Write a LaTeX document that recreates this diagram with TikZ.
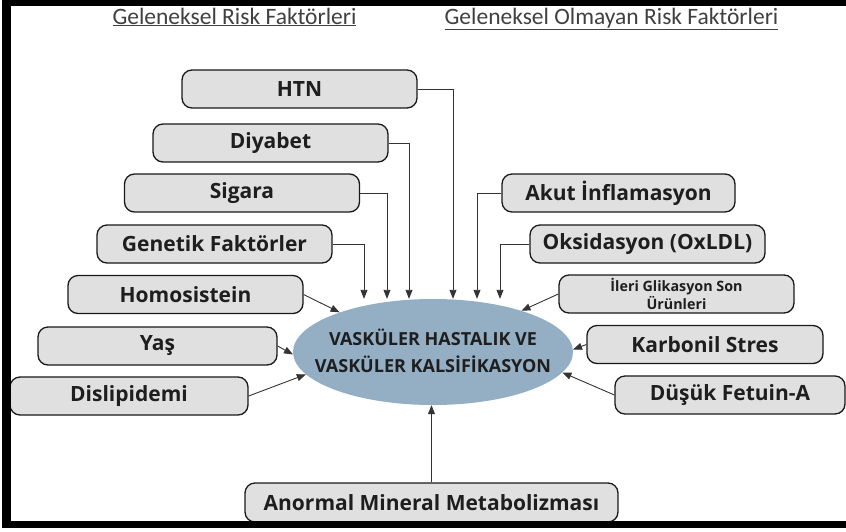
\documentclass[tikz,border=0pt]{standalone}
\usepackage{fontspec}
\setmainfont{Carlito}
\newfontfamily\boxfont{Open Sans}
\usetikzlibrary{arrows.meta,shapes.geometric,calc}
\definecolor{boxfill}{HTML}{E0E0E0}
\definecolor{ellfill}{HTML}{94AEC4}
\definecolor{linegray}{HTML}{333333}
\definecolor{titlegray}{HTML}{404040}
\definecolor{txtdark}{HTML}{1E1E1E}
\begin{document}
\begin{tikzpicture}[x=1pt,y=-1pt,
  rbox/.style={draw=black!90, line width=1.3pt, fill=boxfill, rounded corners=10pt,
    minimum width=235pt, minimum height=38pt, inner sep=0pt, align=center,
    text=txtdark, font=\boxfont\fontsize{21}{22}\selectfont\bfseries},
  title/.style={anchor=base, text=titlegray, font=\fontsize{23.5}{25}\selectfont, inner sep=0pt},
  arr/.style={draw=linegray, line width=0.9pt, -{Triangle[length=9pt,width=7pt]}}]
\useasboundingbox (0,0) rectangle (846,531);
% titles
\node[title] (t1) at (234.5,24) {\underline{Geleneksel Risk Faktörleri}};
\node[title] (t2) at (611.5,24) {\underline{Geleneksel Olmayan Risk Faktörleri}};
% centre
\node[ellipse, minimum width=280pt, minimum height=106pt, fill=ellfill, inner sep=0pt] (ell) at (433,352) {};
\node[align=center, inner sep=0pt, text=txtdark, font=\boxfont\fontsize{18}{27}\selectfont\bfseries] (elltxt) at (433,350.5)
  {VASKÜLER HASTALIK VE\\VASKÜLER KALSİFİKASYON};
% left boxes
\node[rbox] (htn) at (299.5,89) {HTN};
\node[rbox] (diy) at (270.5,143) {Diyabet};
\node[rbox] (sig) at (242,193) {Sigara};
\node[rbox] (gen) at (214.5,244) {Genetik Faktörler};
\node[rbox] (hom) at (185.5,294.5) {Homosistein};
\node[rbox, minimum width=239pt] (yas) at (157.5,346) {Yaş};
\node[rbox, minimum width=238pt] (dis) at (129,396) {Dislipidemi};
% right boxes
\node[rbox, minimum width=233pt] (aku) at (618.5,193) {Akut İnflamasyon};
\node[rbox] (oks) at (647.5,244) {Oksidasyon (OxLDL)};
\node[rbox, font=\boxfont\fontsize{14.3}{15}\selectfont\bfseries] (ile) at (676.5,294) {İleri Glikasyon Son\\Ürünleri};
\node[rbox, minimum width=236pt] (kar) at (705,344.5) {Karbonil Stres};
\node[rbox, minimum width=230pt] (fet) at (730,395) {Düşük Fetuin-A};
% bottom box
\node[rbox, minimum width=373pt, minimum height=39pt] (ano) at (431.5,502.5) {Anormal Mineral Metabolizması};
% top arrows
\draw[arr] (htn.east) -| ([xshift=20pt]ell.north);
\draw[arr] (diy.east) -| ([xshift=-24pt]ell.north);
\draw[arr] (sig.east) -| ([xshift=-46pt]ell.north);
\draw[arr] (gen.east) -| ([xshift=-69pt]ell.north);
\draw[arr] (aku.west) -| ([xshift=44pt]ell.north);
\draw[arr] (oks.west) -| ([xshift=67pt]ell.north);
% side arrows
\draw[arr] (hom.east) -- (ell.157);
\draw[arr] (yas.east) -- (ell.181);
\draw[arr] (dis.east) -- (ell.190);
\draw[arr] (ile.west) -- (ell.25);
\draw[arr] (kar.west) -- (ell.1);
\draw[arr] (fet.west) -- (ell.-9);
\draw[arr] (ano.north) -- (ano.north |- ell.south);
% frame
\fill[black] (2,0) rectangle (846,6);
\fill[black] (2,0) rectangle (11,528);
\fill[black] (2,521) rectangle (846,528);
\end{tikzpicture}
\end{document}
